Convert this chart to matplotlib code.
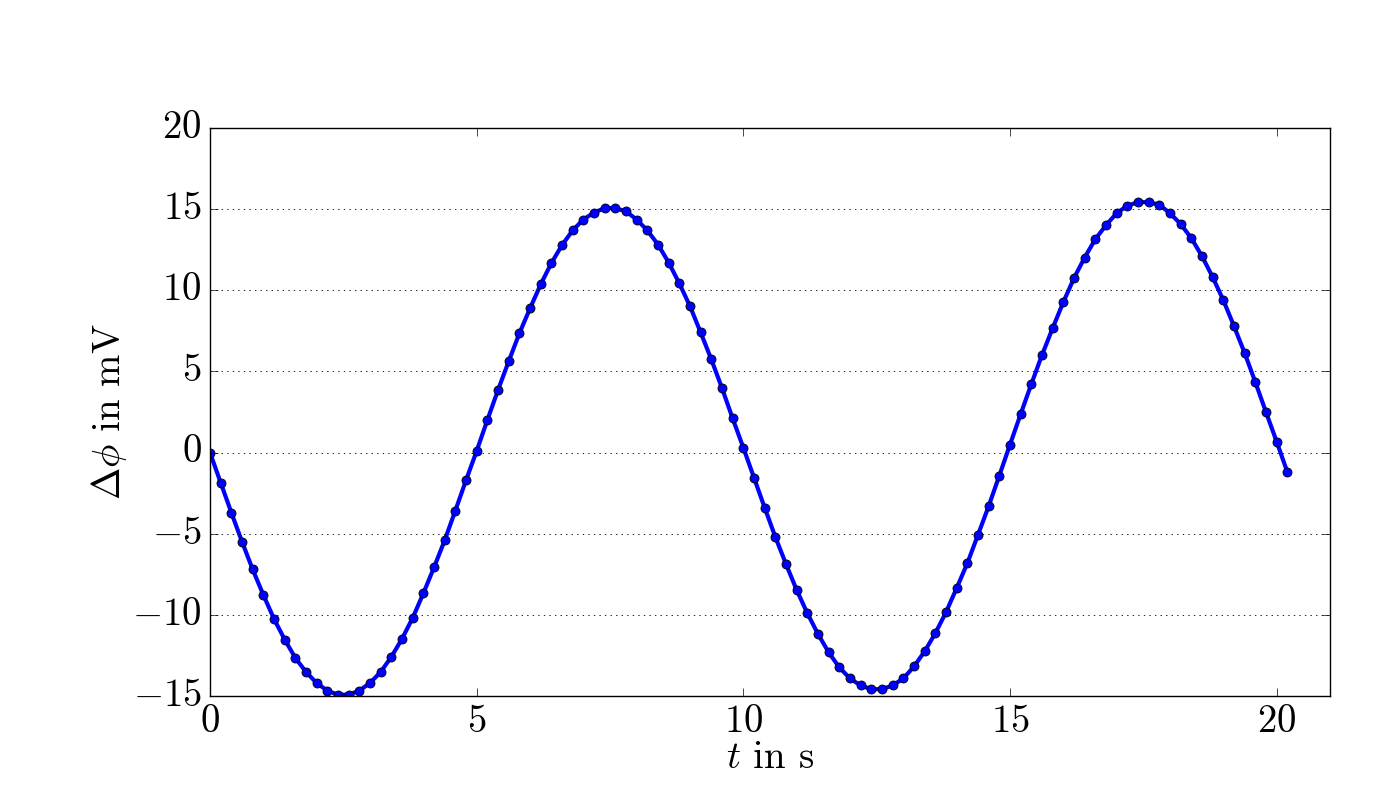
import matplotlib
matplotlib.use("Agg")
import matplotlib.pyplot as plt

# time samples in s
t = [
    0.0, 0.2, 0.4, 0.6, 0.8, 1.0, 1.2, 1.4, 1.6, 1.8,
    2.0, 2.2, 2.4, 2.6, 2.8, 3.0, 3.2, 3.4, 3.6, 3.8,
    4.0, 4.2, 4.4, 4.6, 4.8, 5.0, 5.2, 5.4, 5.6, 5.8,
    6.0, 6.2, 6.4, 6.6, 6.8, 7.0, 7.2, 7.4, 7.6, 7.8,
    8.0, 8.2, 8.4, 8.6, 8.8, 9.0, 9.2, 9.4, 9.6, 9.8,
    10.0, 10.2, 10.4, 10.6, 10.8, 11.0, 11.2, 11.4, 11.6, 11.8,
    12.0, 12.2, 12.4, 12.6, 12.8, 13.0, 13.2, 13.4, 13.6, 13.8,
    14.0, 14.2, 14.4, 14.6, 14.8, 15.0, 15.2, 15.4, 15.6, 15.8,
    16.0, 16.2, 16.4, 16.6, 16.8, 17.0, 17.2, 17.4, 17.6, 17.8,
    18.0, 18.2, 18.4, 18.6, 18.8, 19.0, 19.2, 19.4, 19.6, 19.8,
    20.0, 20.2,
]

# potential difference in mV
dphi = [
    0.00, -1.85, -3.70, -5.49, -7.20, -8.77, -10.25, -11.52, -12.65, -13.52,
    -14.20, -14.67, -14.92, -14.92, -14.67, -14.20, -13.52, -12.59, -11.48, -10.19,
    -8.68, -7.08, -5.41, -3.58, -1.71, 0.10, 2.00, 3.85, 5.62, 7.34,
    8.88, 10.36, 11.67, 12.78, 13.69, 14.36, 14.79, 15.06, 15.06, 14.86,
    14.36, 13.69, 12.82, 11.71, 10.42, 9.02, 7.40, 5.74, 3.97, 2.10,
    0.30, -1.55, -3.40, -5.20, -6.87, -8.47, -9.90, -11.18, -12.31, -13.24,
    -13.92, -14.35, -14.58, -14.58, -14.35, -13.92, -13.18, -12.25, -11.13, -9.84,
    -8.35, -6.82, -5.07, -3.30, -1.42, 0.49, 2.37, 4.22, 6.01, 7.67,
    9.27, 10.75, 12.02, 13.15, 14.01, 14.75, 15.21, 15.43, 15.43, 15.27,
    14.75, 14.08, 13.21, 12.10, 10.81, 9.39, 7.79, 6.13, 4.34, 2.49,
    0.67, -1.20,
]

x_ticks = [0, 5, 10, 15, 20]
y_ticks = [-15, -10, -5, 0, 5, 10, 15, 20]

plt.style.use("classic")
plt.rcParams["font.family"] = "serif"
plt.rcParams["font.serif"] = ["cmr10"]
plt.rcParams["mathtext.fontset"] = "cm"
plt.rcParams["axes.formatter.use_mathtext"] = True
plt.rcParams["axes.unicode_minus"] = True

fig = plt.figure(figsize=(14, 8), dpi=100, facecolor="white")
ax = fig.add_axes([0.15, 0.13, 0.80, 0.71])

ax.plot(t, dphi, "-o", color="blue", linewidth=3, markersize=6.5,
        markerfacecolor="blue", markeredgecolor="black", markeredgewidth=0.6)

ax.set_xlim(0, 21)
ax.set_ylim(-15, 20)
ax.set_xticks(x_ticks)
ax.set_yticks(y_ticks)
ax.yaxis.grid(True, linestyle=":", color="black", linewidth=0.6)
ax.xaxis.grid(False)
ax.tick_params(labelsize=28, direction="in", length=6, pad=6)

ax.set_xlabel(r"$t$ in s", fontsize=28, labelpad=0)
ax.set_ylabel(r"$\Delta\phi$ in mV", fontsize=28, labelpad=2)

fig.savefig("out.png", dpi=100, facecolor="white")
